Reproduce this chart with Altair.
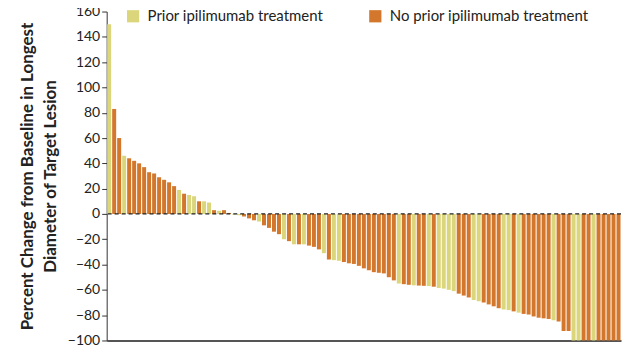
import altair as alt
import pandas as pd

values = [150, 83, 60, 46, 44, 42, 40, 37, 33, 32, 29, 27, 25, 22, 19, 16, 15, 14, 10, 10,
          9, 3, 2.5, 3, 0.8, -0.5, -1, -2, -3.5, -5, -6, -9, -11, -14, -16, -20, -21.5, -24, -24, -24,
          -25, -26, -28, -31, -36, -36.5, -37, -38, -39, -39.5, -41, -43, -44.5, -46, -46.5, -47, -50, -52.5, -55, -55.5,
          -56, -56.4, -56.6, -56.8, -57, -57.5, -58.5, -59, -60, -61, -63, -64.5, -66, -68, -69, -70, -71.5, -73, -74.5, -75.5,
          -76, -77, -78, -79, -79.5, -81, -82, -82.5, -83, -84, -85, -92.5, -92.5, -100, -100, -100, -100, -100, -100, -100,
          -100, -100, -100]
groups = ("YOOYOOOOOO" "OOOOYOYYOY" "YOYOOYYOOO" "YOOOOYOYOY" "OOOYOYYOOO"
          "OOOOOOOOYO" "OYOOYOYYYY" "OOOYYOOOOY" "YOYOOOOOOY" "OOOYYOOYOO" "OOO")

PRIOR = "Prior ipilimumab treatment"
NOPRIOR = "No prior ipilimumab treatment"
y_ticks = [-100, -80, -60, -40, -20, 0, 20, 40, 60, 80, 100, 120, 140, 160]

df = pd.DataFrame({
    "idx": list(range(1, len(values) + 1)),
    "value": values,
    "group": [PRIOR if g == "Y" else NOPRIOR for g in groups],
})

FONT = "Lato"

yscale = alt.Scale(domain=[-100, 160], nice=False)
yaxis = alt.Axis(values=y_ticks, title=["Percent Change from Baseline in Longest", "Diameter of Target Lesion"],
                 titleFont=FONT, titleFontSize=17, titleFontWeight="bold", titleColor="#222222",
                 labelFont=FONT, labelFontSize=14, labelColor="#222222", labelPadding=2,
                 labelOverlap=False, labelFlush=False, labelBound=False,
                 tickSize=5, tickColor="#333333", domainColor="#333333", grid=False,
                 titlePadding=8, titleLineHeight=23)

bars = alt.Chart(df).mark_bar().encode(
    x=alt.X("idx:O", axis=alt.Axis(labels=False, ticks=False, title=None, domainColor="#555555", domainWidth=2),
            scale=alt.Scale(paddingInner=0.2, paddingOuter=0.1)),
    y=alt.Y("value:Q", scale=yscale, axis=yaxis),
    color=alt.Color("group:N",
                    scale=alt.Scale(domain=[PRIOR, NOPRIOR], range=["#dbd67b", "#d2772b"]),
                    legend=alt.Legend(title=None, orient="none", legendX=19, legendY=-3, direction="horizontal",
                                      symbolType="square", symbolSize=150, symbolStrokeWidth=0,
                                      labelFont=FONT, labelFontSize=15, labelColor="#222222", labelLimit=0,
                                      columnPadding=44, padding=0, labelOffset=7)),
)

zero = alt.Chart(pd.DataFrame({"y": [0]})).mark_rule(color="#222222", strokeDash=[4, 3], strokeWidth=1.2).encode(
    y=alt.Y("y:Q", scale=yscale, axis=yaxis)
)

chart = alt.layer(bars, zero).properties(
    width=516, height=330,
    padding={"left": 99, "top": 3, "right": 5, "bottom": 5},
    autosize=alt.AutoSizeParams(type="none"),
).configure_view(stroke=None).configure_axisY(labelOverlap=False)

chart.save("out.html", embed_options={"renderer": "svg", "actions": False})
